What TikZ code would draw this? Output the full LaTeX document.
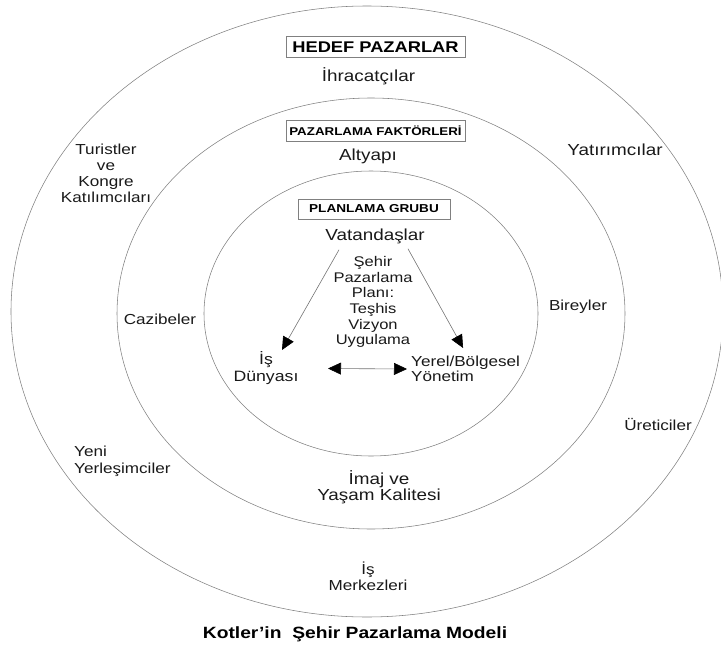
\documentclass[tikz,border=0pt]{standalone}
\usepackage{fontspec}
\setmainfont{Liberation Sans}[FakeStretch=1.18]
\usepackage{tikz}
\usetikzlibrary{arrows.meta, positioning}
\tikzset{
    ring/.style={draw=black!50, line width=0.55pt},
    hbox/.style={rectangle, draw=black!50, line width=0.8pt, inner sep=0pt},
    txt/.style={inner sep=0pt, align=center, text=black!90, font=\fontsize{14.5}{16}\selectfont},
    bigtxt/.style={inner sep=0pt, align=center, text=black!90, font=\fontsize{16}{16.5}\selectfont},
    arrow/.style={draw=black!55, line width=0.6pt, -{Triangle[length=13pt, width=12pt, color=black]}},
    twoway/.style={draw=black!55, line width=0.6pt, {Triangle[length=13pt, width=12pt, color=black]}-{Triangle[length=13pt, width=12pt, color=black]}}
}

\begin{document}
\begin{tikzpicture}[x=1pt, y=-1pt]
    \useasboundingbox (0,0) rectangle (721,648);
    % Draw rings
    \draw [ring] (367,311.5) ellipse [x radius=356pt, y radius=305.5pt];
    \draw [ring] (371,313.5) ellipse [x radius=254pt, y radius=215.5pt];
    \draw [ring] (371,313.5) ellipse [x radius=167pt, y radius=142.5pt];

    % Place nodes
    \node [hbox, minimum width=179pt, minimum height=21.5pt, font=\fontsize{15.5}{18}\selectfont\bfseries] (hedef) at (375.5,47) {HEDEF PAZARLAR};
    \node [bigtxt, below=9pt of hedef, xshift=-7pt] (ihr) {İhracatçılar};
    \node [hbox, minimum width=179pt, minimum height=20.5pt, font=\fontsize{11.3}{13}\selectfont\bfseries] (faktor) at (375.5,131) {PAZARLAMA FAKTÖRLERİ};
    \node [bigtxt, below=7pt of faktor, xshift=-7.5pt] (altyapi) {Altyapı};
    \node [hbox, minimum width=152pt, minimum height=20pt, font=\fontsize{11.5}{13}\selectfont\bfseries] (planlama) at (374,209) {PLANLAMA GRUBU};
    \node [bigtxt, below=9pt of planlama, xshift=1pt] (vatan) {Vatandaşlar};

    \node [txt, font=\fontsize{14}{15.6}\selectfont] (plan) at (373,302) {Şehir\\Pazarlama\\Planı:\\Teşhis\\Vizyon\\Uygulama};
    \node [txt, font=\fontsize{15}{17}\selectfont] (is) at (266,368.5) {İş\\Dünyası};
    \node [txt, anchor=west, align=left, font=\fontsize{14.5}{15.5}\selectfont] (yerel) at (411,369) {Yerel/Bölgesel\\Yönetim};

    \node [txt] (cazibe) at (160,319) {Cazibeler};
    \node [txt] (birey) at (578,307) {Bireyler};
    \node [bigtxt] (yatirim) at (615,150) {Yatırımcılar};
    \node [txt] (turist) at (106,173) {Turistler\\ve\\Kongre\\Katılımcıları};
    \node [txt] (uretici) at (658,424) {Üreticiler};
    \node [txt, anchor=west, align=left, font=\fontsize{14.5}{17}\selectfont] (yeni) at (74,461.5) {Yeni\\Yerleşimciler};
    \node [bigtxt] (imaj) at (379,487) {İmaj ve\\Yaşam Kalitesi};
    \node [txt] (merkez) at (368,576) {İş\\Merkezleri};

    \node [inner sep=0pt, font=\fontsize{16.3}{18}\selectfont\bfseries] (baslik) at (355,634) {Kotler’in~ Şehir Pazarlama Modeli};

    % Draw edges
    \draw [arrow] ([xshift=-36pt, yshift=-6pt]vatan.south) -- ([xshift=16pt, yshift=18.5pt]is.center);
    \draw [arrow] ([xshift=33pt, yshift=-5pt]vatan.south) -- ([xshift=-2.5pt, yshift=21pt]yerel.center);
    \draw [twoway] ([xshift=62pt]is.center) -- ([xshift=-4pt]yerel.west);
\end{tikzpicture}
\end{document}
